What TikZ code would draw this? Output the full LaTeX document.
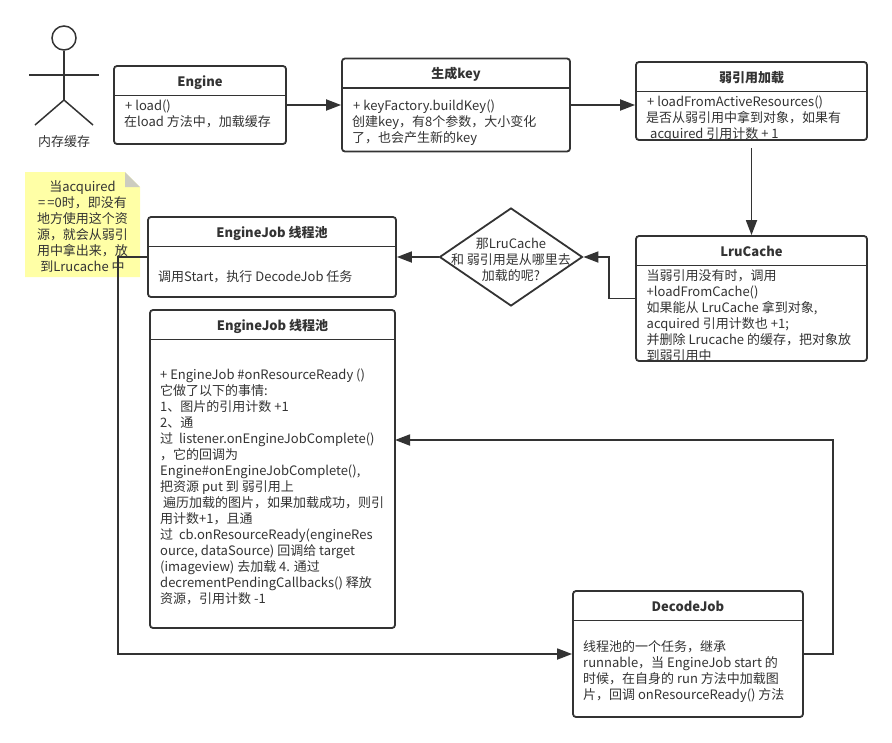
\documentclass[tikz,border=0pt]{standalone}
\usepackage{fontspec}
\setmainfont{Noto Sans CJK SC}
\usetikzlibrary{shapes.geometric, arrows.meta}
\definecolor{inkgray}{HTML}{333333}
\definecolor{notefill}{HTML}{FFFFA6}
\definecolor{foldgray}{HTML}{CCCCC0}
\tikzset{
  umlbox/.style={draw=inkgray, line width=1.8pt, rounded corners=3pt, inner sep=0pt, fill=white},
  titlebox/.style={inner sep=0pt, minimum height=30pt, text height=12pt, text depth=0pt, text=inkgray, font=\fontsize{13}{16}\selectfont\bfseries},
  bodytext/.style={inner sep=0pt, yshift=-2.5pt, align=left, text=inkgray, font=\fontsize{13}{16}\selectfont},
  headline/.style={draw=inkgray, line width=1.8pt},
  conn/.style={draw=inkgray, line width=1.8pt, -{Triangle[length=15pt,width=11pt]}},
}
\begin{document}
\begin{tikzpicture}[x=1pt, y=-1pt]
\useasboundingbox (0,0) rectangle (892,742);
% actor
\node[draw=inkgray, line width=1.5pt, circle, inner sep=0pt, minimum size=24pt] (head) at (64,38) {};
\coordinate (hip) at (64,100);
\coordinate (armL) at (29,75);
\coordinate (armR) at (99,75);
\coordinate (legL) at (35,125);
\coordinate (legR) at (93,125);
\draw[headline, line width=1.5pt] (head.south) -- (hip);
\draw[headline, line width=1.5pt] (armL) -- (armR);
\draw[headline, line width=1.5pt] (legL) -- (hip) -- (legR);
\node[bodytext] (actorlabel) at (64,139.5) {内存缓存};
% note
\fill[notefill] (25,172) -- (125,172) -- (140,187) -- (140,277) -- (25,277) -- cycle;
\fill[foldgray] (125,172) -- (140,187) -- (125,187) -- cycle;
\node[bodytext, align=center] (note) at (82.5,224) {当acquired\\=\hspace{2pt}=0时，即没有\\地方使用这个资\\源，就会从弱引\\用中拿出来，放\\到Lrucache 中};
% Engine
\node[umlbox, minimum width=172pt, minimum height=78pt] (engine) at (200,105) {};
\node[titlebox, anchor=north] (engineT) at (engine.north) {Engine};
\draw[headline] (engineT.south -| engine.west) -- (engineT.south -| engine.east);
\node[bodytext, anchor=north west] (engineB) at (124,97) {\hspace{1pt}+ load()\\在load 方法中，加载缓存};
% key
\node[umlbox, minimum width=228pt, minimum height=93pt] (genkey) at (456,105) {};
\node[titlebox, anchor=north] (genkeyT) at (genkey.north) {生成key};
\draw[headline] (genkeyT.south -| genkey.west) -- (genkeyT.south -| genkey.east);
\node[bodytext, anchor=north west] (genkeyB) at (352,97) {\hspace{1pt}+ keyFactory.buildKey()\\创建key，有8个参数，大小变化\\了，也会产生新的key};
% weak reference
\node[umlbox, minimum width=231pt, minimum height=78pt] (weak) at (751.5,101) {};
\node[titlebox, anchor=north] (weakT) at (weak.north) {弱引用加载};
\draw[headline] (weakT.south -| weak.west) -- (weakT.south -| weak.east);
\node[bodytext, anchor=north west] (weakB) at (646,93) {\hspace{1pt}+ loadFromActiveResources()\\是否从弱引用中拿到对象，如果有\\\hspace{4pt}acquired 引用计数 + 1};
% LruCache
\node[umlbox, minimum width=231pt, minimum height=125pt] (lru) at (751.5,298.5) {};
\node[titlebox, anchor=north] (lruT) at (lru.north) {LruCache};
\draw[headline] (lruT.south -| lru.west) -- (lruT.south -| lru.east);
\node[bodytext, anchor=north west] (lruB) at (646.5,267) {当弱引用没有时，调用\\+loadFromCache()\\如果能从 LruCache 拿到对象,\\acquired 引用计数也 +1;\\并删除 Lrucache 的缓存，把对象放\\到弱引用中};
% question
\node[draw=inkgray, line width=1.8pt, diamond, inner sep=0pt, minimum width=143pt, minimum height=98pt] (ask) at (511,257) {};
\node[bodytext, align=center] (askT) at (511,257) {那LruCache\\和 弱引用是从哪里去\\加载的呢?};
% thread pool
\node[umlbox, minimum width=248pt, minimum height=80pt] (job) at (272,257) {};
\node[titlebox, anchor=north] (jobT) at (job.north) {EngineJob 线程池};
\draw[headline] (jobT.south -| job.west) -- (jobT.south -| job.east);
\node[bodytext, anchor=west] (jobB) at (158,274) {调用Start，执行 DecodeJob 任务};
% thread pool, second box
\node[umlbox, minimum width=245pt, minimum height=318pt] (ready) at (272.5,469) {};
\node[titlebox, anchor=north] (readyT) at (ready.north) {EngineJob 线程池};
\draw[headline] (readyT.south -| ready.west) -- (readyT.south -| ready.east);
\node[bodytext, anchor=north west] (readyB) at (160,366) {+ EngineJob \#onResourceReady ()\\它做了以下的事情:\\1、图片的引用计数 +1\\2、通\\过 ~listener.onEngineJobComplete()\\，它的回调为\\Engine\#onEngineJobComplete(),\\把资源 put 到 弱引用上\\\hspace{3pt}遍历加载的图片，如果加载成功，则引\\用计数+1，且通\\过 ~cb.onResourceReady(engineRes\\ource, dataSource) 回调给 target\\(imageview) 去加载 4. 通过\\decrementPendingCallbacks() 释放\\资源，引用计数 -1};
\coordinate (readyin) at (395,440);
% DecodeJob
\node[umlbox, minimum width=230pt, minimum height=126pt] (decode) at (688,654) {};
\node[titlebox, anchor=north] (decodeT) at (decode.north) {DecodeJob};
\draw[headline] (decodeT.south -| decode.west) -- (decodeT.south -| decode.east);
\node[bodytext, anchor=north west] (decodeB) at (583,638) {线程池的一个任务，继承\\runnable，当 EngineJob start 的\\时候，在自身的 run 方法中加载图\\片，回调 onResourceReady() 方法};
% connectors
\draw[conn] (engine.east) -- (genkey.west);
\draw[conn] (genkey.east) -- (genkey.east -| weak.west);
\draw[conn] ([yshift=-7pt]weak.south) -- (lru.north);
\draw[conn] (lru.west) -- ++(-26,0) |- (ask.east);
\draw[conn] (ask.west) -- (job.east);
\draw[conn] (job.west) -- (118,257) |- (decode.west);
\draw[conn] (decode.east) -- (833,654) |- (readyin);
\end{tikzpicture}
\end{document}
